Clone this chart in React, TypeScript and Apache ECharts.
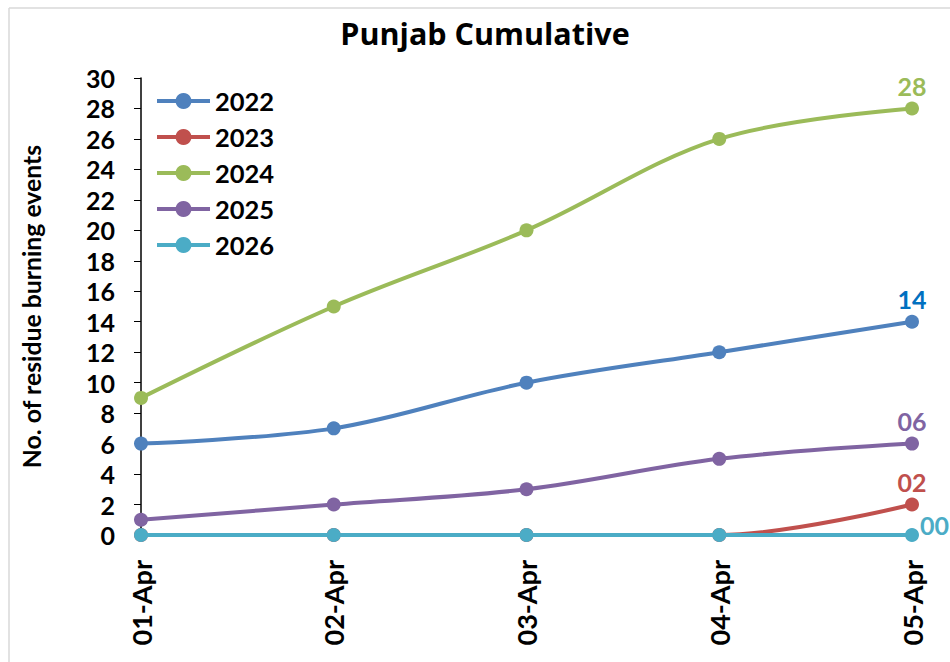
import React, { useEffect, useRef } from "react";
import * as echarts from "echarts";

const categories = ["01-Apr", "02-Apr", "03-Apr", "04-Apr", "05-Apr"];
const years = ["2022", "2023", "2024", "2025", "2026"];
const s2022 = [6, 7, 10, 12, 14];
const s2023 = [0, 0, 0, 0, 2];
const s2024 = [9, 15, 20, 26, 28];
const s2025 = [1, 2, 3, 5, 6];
const s2026 = [0, 0, 0, 0, 0];
const seriesValues = [s2022, s2023, s2024, s2025, s2026];
const colors = ["#4F81BD", "#C0504D", "#9BBB59", "#8064A2", "#4BACC6"];
const labelColors = ["#0070C0", "#C0504D", "#9BBB59", "#8064A2", "#4BACC6"];

const FONT = "Lato, 'Open Sans', sans-serif";
const TITLE_FONT = "'Open Sans', Lato, sans-serif";

export default function App() {
  const ref = useRef<HTMLDivElement>(null);
  useEffect(() => {
    if (!ref.current) return;
    const chart = echarts.init(ref.current, undefined, { renderer: "svg" });
    const last = categories.length - 1;
    chart.setOption({
      animation: false,
      backgroundColor: "#ffffff",
      title: {
        text: "Punjab Cumulative",
        left: 480,
        top: 12,
        textAlign: "center",
        textStyle: { fontFamily: TITLE_FONT, fontWeight: "bold", fontSize: 30.5, color: "#000" },
      },
      graphic: [
        { type: "line", shape: { x1: 9, y1: 8, x2: 950, y2: 8 }, style: { stroke: "#d9d9d9", lineWidth: 1.5 } },
        { type: "line", shape: { x1: 9, y1: 8, x2: 9, y2: 662 }, style: { stroke: "#d9d9d9", lineWidth: 1.5 } },
      ],
      legend: {
        orient: "vertical",
        left: 150,
        top: 83,
        itemGap: 10,
        itemWidth: 53,
        itemHeight: 20,
        data: years,
        lineStyle: { width: 4 },
        textStyle: { fontFamily: FONT, fontWeight: "bold", fontSize: 25.5, lineHeight: 25, color: "#000" },
      },
      grid: { left: 141, right: 38, top: 78, bottom: 127, containLabel: false },
      xAxis: {
        type: "category",
        data: categories,
        boundaryGap: false,
        axisLine: { show: false },
        axisTick: { show: true, length: 5, lineStyle: { color: "#000" } },
        axisLabel: {
          rotate: 90,
          margin: 25,
          fontFamily: FONT,
          fontWeight: "bold",
          fontSize: 27,
          color: "#000",
        },
        splitLine: { show: false },
      },
      yAxis: {
        type: "value",
        min: 0,
        max: 30,
        interval: 2,
        name: "No. of residue burning events",
        nameLocation: "middle",
        nameGap: 97,
        nameTextStyle: { fontFamily: FONT, fontWeight: "bold", fontSize: 24.8, color: "#000" },
        axisLine: { show: true, lineStyle: { color: "#000", width: 1.5 } },
        axisTick: { show: true, length: 7, lineStyle: { color: "#000" } },
        axisLabel: { fontFamily: FONT, fontWeight: "bold", fontSize: 25, color: "#000", margin: 26 },
        splitLine: { show: false },
      },
      series: years.map((y, i) => ({
        name: y,
        type: "line",
        data: seriesValues[i],
        smooth: 0.35,
        symbol: "circle",
        symbolSize: 14,
        z: i === 4 ? 5 : 3 + (4 - i) * 0.1,
        itemStyle: { color: colors[i] },
        lineStyle: { color: colors[i], width: 4 },
        label: {
          show: true,
          position: i === 4 ? "right" : "top",
          distance: i === 4 ? 1 : 3,
          offset: i === 4 ? [0, -10] : [0, 0],
          fontFamily: FONT,
          fontWeight: "bold",
          fontSize: 25,
          color: labelColors[i],
          formatter: (p: any) => (p.dataIndex === last ? String(p.value).padStart(2, "0") : ""),
        },
      })),
    });
    return () => chart.dispose();
  }, []);
  return (
    <div
      ref={ref}
      style={{ position: "absolute", left: 0, top: 0, width: 950, height: 662 }}
    />
  );
}
